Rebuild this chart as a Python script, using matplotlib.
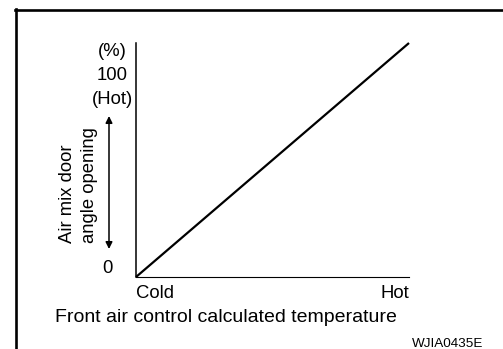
import matplotlib
matplotlib.use("Agg")
from matplotlib import pyplot as plt
from matplotlib.lines import Line2D

# air mix door opening vs. calculated temperature
temp = [0, 100]
opening = [0, 100]
temp_labels = ["Cold", "Hot"]
opening_ticks = [0, 100]
opening_labels = ["0", "(%)\n100\n(Hot)"]

W, H = 503, 349
FS = 13.3
plt.rcParams['font.family'] = ['Liberation Sans', 'DejaVu Sans']

fig = plt.figure(figsize=(W / 100, H / 100), dpi=100)


def fx(px):
    return px / W


def fy(py):
    return (H - py) / H


ax = fig.add_axes([fx(136), fy(277), fx(409) - fx(136), fy(43) - fy(277)])
ax.plot(temp, opening, color="black", lw=1.6, clip_on=False, solid_capstyle="butt")
ax.set_xlim(0, 100)
ax.set_ylim(0, 100)

for s in ["top", "right"]:
    ax.spines[s].set_visible(False)
ax.spines["left"].set_linewidth(1.1)
ax.spines["bottom"].set_linewidth(0.8)

ax.set_xticks(temp, temp_labels)
ax.set_yticks(opening_ticks, opening_labels)
ax.tick_params(length=0, labelsize=FS)
ax.tick_params(axis="x", pad=6)
ax.tick_params(axis="y", pad=17)
xl = ax.get_xticklabels()
xl[0].set_ha("left")
xl[1].set_ha("right")
yl = ax.get_yticklabels()
yl[0].set_va("bottom")
yl[1].set_va("top")
yl[1].set_ha("center")
yl[1].set_linespacing(1.55)

ax.set_xlabel("Front air control calculated temperature", fontsize=14)
ax.xaxis.set_label_coords((226 - 136) / 273, (277 - 317) / 234)
ax.xaxis.label.set_va("center")

fig.text(fx(78.5), fy(243), "Air mix door\nangle opening", rotation=90,
         ha="center", va="bottom", multialignment="left", fontsize=FS,
         linespacing=1.45)

# double arrow beside the y axis
ax.annotate("", xy=(fx(109), fy(116)), xycoords="figure fraction",
            xytext=(fx(109), fy(249)), textcoords="figure fraction",
            arrowprops=dict(arrowstyle="<|-|>", color="black", lw=1.1,
                            mutation_scale=10, shrinkA=0, shrinkB=0))

# frame lines
fig.add_artist(Line2D([fx(16), fx(16)], [fy(8.5), 0], color="black", lw=1.9,
                      transform=fig.transFigure))
fig.add_artist(Line2D([fx(15), fx(502)], [fy(10), fy(10)], color="black", lw=1.9,
                      transform=fig.transFigure))

fig.text(fx(483), fy(344), "WJIA0435E", ha="right", va="center", fontsize=9.7)

fig.savefig("out.png", dpi=100)
